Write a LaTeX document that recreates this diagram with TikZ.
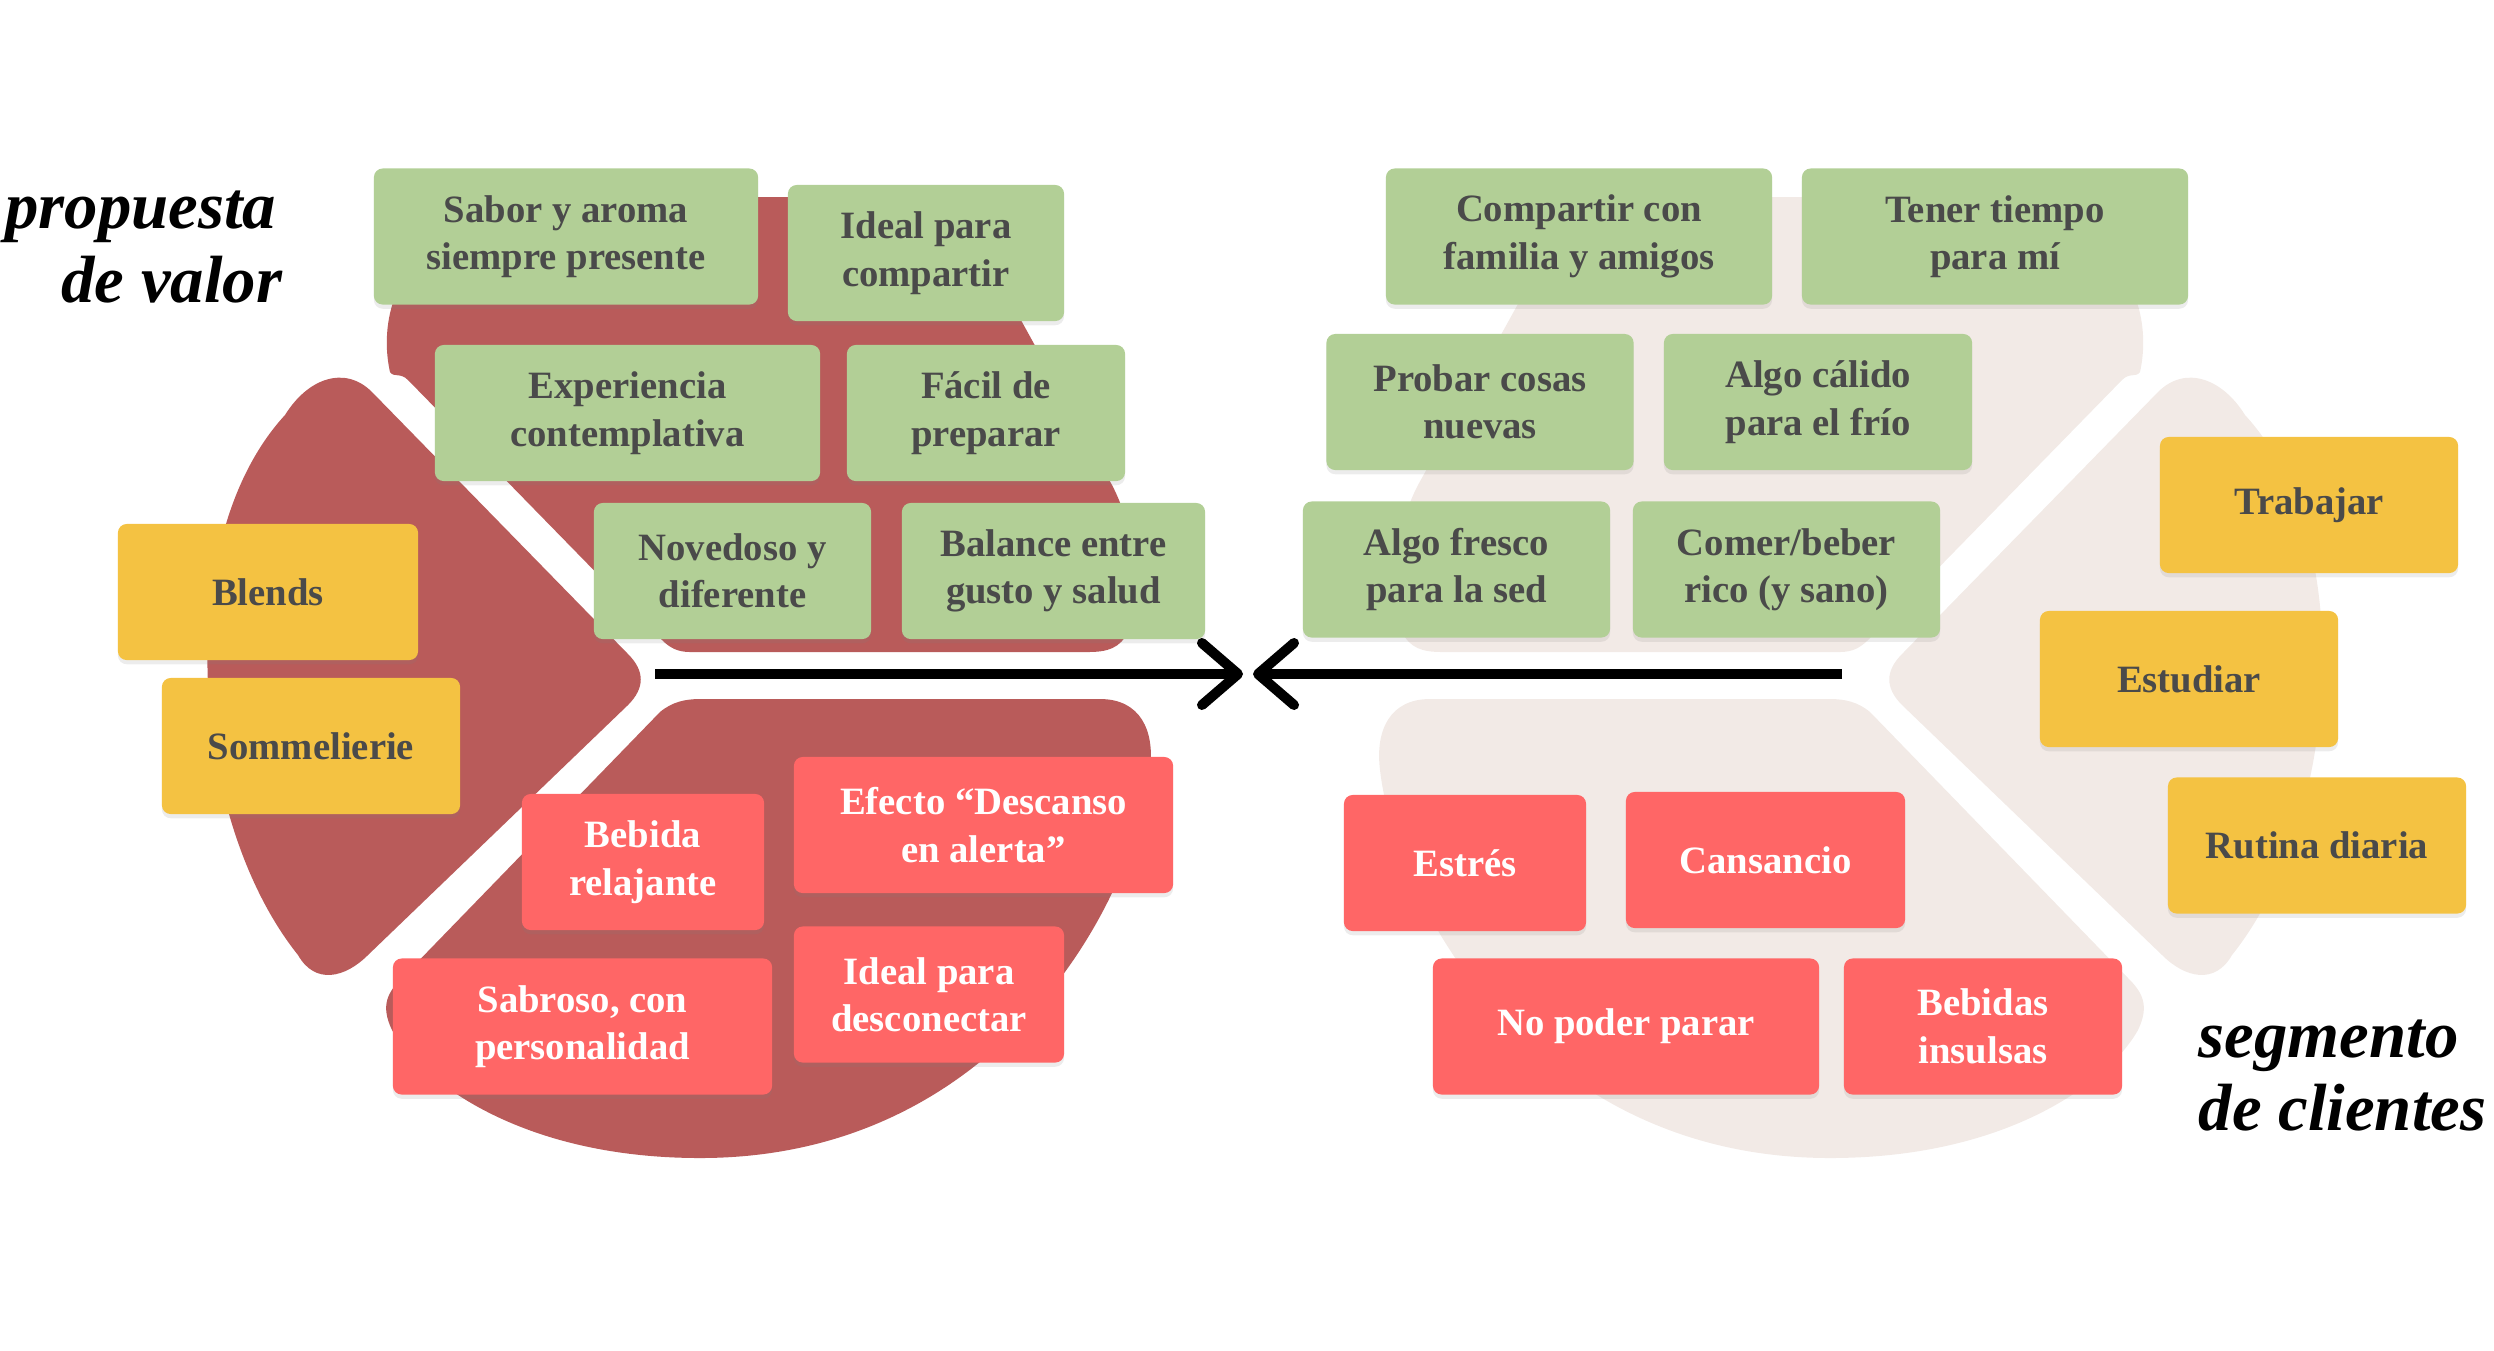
\documentclass[tikz,border=0pt]{standalone}
\usepackage{fontspec}
\setmainfont{Liberation Serif}
\usetikzlibrary{arrows.meta,shadows}
\definecolor{verde}{HTML}{B2CF96}
\definecolor{amarillo}{HTML}{F4C242}
\definecolor{rojo}{HTML}{FF6666}
\definecolor{granate}{HTML}{B95B5A}
\definecolor{crema}{HTML}{F2EAE6}
\definecolor{gris}{HTML}{4A4A4A}
\newcommand{\lienzo}[1] % {color} las tres piezas
{
	\fill[#1] (390,372) .. controls (372,290) and (430,200) .. (560,197) -- (900,197) .. controls (945,197) and (965,220) .. (985,255) -- (1112,485) .. controls (1138,535) and (1142,600) .. (1128,632) .. controls (1120,648) and (1108,652) .. (1088,652) -- (690,652) .. controls (678,652) and (670,648) .. (662,640) -- (408,380) .. controls (400,372) and (394,378) .. (390,372) -- cycle;
	\fill[#1] (372,392) -- (628,654) .. controls (645,671) and (645,688) .. (628,705) -- (368,955) .. controls (345,978) and (315,985) .. (298,955) .. controls (190,820) and (170,540) .. (285,415) .. controls (308,378) and (345,365) .. (372,392) -- cycle;
	\fill[#1] (700,699) -- (1100,699) .. controls (1140,699) and (1155,730) .. (1150,770) .. controls (1135,900) and (1000,1158) .. (700,1158) .. controls (520,1158) and (420,1080) .. (392,1030) .. controls (380,1005) and (388,992) .. (402,978) -- (660,712) .. controls (672,702) and (685,699) .. (700,699) -- cycle;
}
\newcommand{\tarjeta}[6] % {estilo}{nombre}{x}{y}{ancho}{texto}
{
	\node[#1, minimum width=#5cm] (#2) at (#3,#4) {#6};
}
\tikzset{
	tarjeta/.style={rounded corners=2.5pt, minimum height=1.36cm, align=center, inner sep=0pt,
		font=\bfseries\fontsize{11}{13.5}\selectfont,
		drop shadow={opacity=0.15, shadow xshift=0pt, shadow yshift=-1.2pt}},
	ganancia/.style={tarjeta, fill=verde, text=gris},
	servicio/.style={tarjeta, fill=amarillo, text=gris},
	dolor/.style={tarjeta, fill=rojo, text=white},
	titulo/.style={font=\bfseries\itshape\fontsize{19}{21}\selectfont, inner sep=0pt},
	flecha/.style={line width=0.1cm, -{Straight Barb[length=0.36cm, width=0.62cm, round]}}
}
\begin{document}
\begin{tikzpicture}[x=0.01cm, y=-0.01cm]
	\useasboundingbox (0,0) rectangle (2494,1350);

	\lienzo{granate}
	\begin{scope}[shift={(2530,0)}, xscale=-1]
		\lienzo{crema}
	\end{scope}

	% propuesta de valor
	\tarjeta{ganancia}{sabor}{566}{236.5}{3.84}{Sabor y aroma\\siempre presente}
	\tarjeta{ganancia}{compartir}{926}{253}{2.76}{Ideal para\\compartir}
	\tarjeta{ganancia}{experiencia}{627.5}{413}{3.85}{Experiencia\\contemplativa}
	\tarjeta{ganancia}{facil}{986}{413}{2.78}{Fácil de\\preparar}
	\tarjeta{ganancia}{novedoso}{732.5}{571}{2.77}{Novedoso y\\diferente}
	\tarjeta{ganancia}{balance}{1053.5}{571}{3.03}{Balance entre\\gusto y salud}
	\tarjeta{servicio}{blends}{268}{592}{3.00}{Blends}
	\tarjeta{servicio}{sommelierie}{311}{746}{2.98}{Sommelierie}
	\tarjeta{dolor}{bebida}{643}{862}{2.42}{Bebida\\relajante}
	\tarjeta{dolor}{efecto}{983.5}{825}{3.79}{Efecto “Descanso\\en alerta”}
	\tarjeta{dolor}{sabroso}{582.5}{1026.5}{3.79}{Sabroso, con\\personalidad}
	\tarjeta{dolor}{desconectar}{929}{994.5}{2.70}{Ideal para\\desconectar}

	% segmento de clientes
	\tarjeta{ganancia}{familia}{1579}{236.5}{3.86}{Compartir con\\familia y amigos}
	\tarjeta{ganancia}{tiempo}{1995}{236.5}{3.86}{Tener tiempo\\para mí}
	\tarjeta{ganancia}{probar}{1480}{402}{3.07}{Probar cosas\\nuevas}
	\tarjeta{ganancia}{calido}{1818}{402}{3.08}{Algo cálido\\para el frío}
	\tarjeta{ganancia}{fresco}{1456.5}{569.5}{3.07}{Algo fresco\\para la sed}
	\tarjeta{ganancia}{comer}{1786.5}{569.5}{3.07}{Comer/beber\\rico (y sano)}
	\tarjeta{servicio}{trabajar}{2309}{505}{2.98}{Trabajar}
	\tarjeta{servicio}{estudiar}{2189}{679}{2.98}{Estudiar}
	\tarjeta{servicio}{rutina}{2317}{845.5}{2.98}{Rutina diaria}
	\tarjeta{dolor}{estres}{1465}{863}{2.42}{Estrés}
	\tarjeta{dolor}{cansancio}{1765.5}{860}{2.79}{Cansancio}
	\tarjeta{dolor}{parar}{1626}{1026.5}{3.86}{No poder parar}
	\tarjeta{dolor}{insulsas}{1983}{1026.5}{2.78}{Bebidas\\insulsas}

	\coordinate (vpcola) at (655,674);
	\coordinate (vppunta) at (1243,674);
	\coordinate (sccola) at (1842,674);
	\coordinate (scpunta) at (1253,674);
	\draw[flecha] (vpcola) -- (vppunta);
	\draw[flecha] (sccola) -- (scpunta);

	\node[titulo, anchor=base east] (prop1) at (277,228) {propuesta};
	\node[titulo, anchor=base east] (prop2) at (283,302) {de valor};
	\node[titulo, anchor=base west] (seg1) at (2198,1057) {segmento};
	\node[titulo, anchor=base west] (seg2) at (2198,1130) {de clientes};
\end{tikzpicture}
\end{document}
